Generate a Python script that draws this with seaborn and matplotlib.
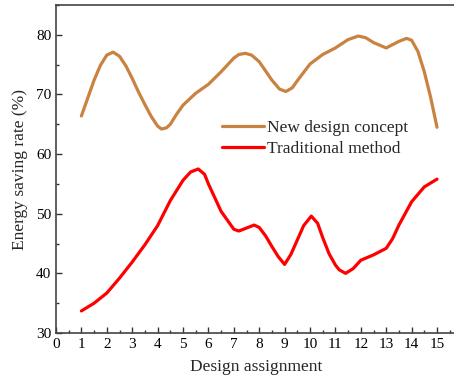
import matplotlib
matplotlib.use("Agg")
import matplotlib.pyplot as plt
import pandas as pd
import seaborn as sns
from matplotlib.ticker import MultipleLocator

# Values (x = design assignment)
new_x = [1, 1.5, 1.75, 2, 2.25, 2.5, 2.75, 3, 3.25, 3.5, 3.75, 4, 4.15, 4.35,
         4.5, 4.75, 5, 5.5, 6, 6.5, 7, 7.2, 7.45, 7.7, 8, 8.5, 8.8, 9.05,
         9.3, 9.5, 10, 10.5, 11, 11.5, 11.9, 12.2, 12.5, 13, 13.5, 13.8, 14,
         14.25, 14.5, 14.75, 15]
new_y = [66.4, 72.4, 74.9, 76.6, 77.1, 76.4, 74.8, 72.7, 70.4, 68.3, 66.3,
         64.7, 64.2, 64.4, 65.0, 66.7, 68.2, 70.2, 71.7, 73.8, 76.1, 76.7,
         76.9, 76.6, 75.5, 72.4, 70.9, 70.5, 71.1, 72.3, 75.1, 76.7, 77.8,
         79.2, 79.8, 79.5, 78.7, 77.8, 78.9, 79.4, 79.1, 77.2, 73.8, 69.5,
         64.5]

trad_x = [1, 1.5, 2, 2.5, 3, 3.5, 4, 4.5, 5, 5.3, 5.6, 5.85, 6, 6.25, 6.5, 7,
          7.2, 7.5, 7.8, 8, 8.25, 8.5, 8.75, 9, 9.25, 9.5, 9.75, 10.05, 10.3,
          10.5, 10.75, 11, 11.15, 11.4, 11.7, 12, 12.5, 13, 13.25, 13.5, 14,
          14.5, 15]
trad_y = [33.7, 35.0, 36.7, 39.2, 41.9, 44.8, 48.0, 52.2, 55.6, 57.0, 57.5,
          56.6, 55.0, 52.7, 50.4, 47.4, 47.1, 47.6, 48.1, 47.7, 46.3, 44.5,
          42.8, 41.5, 43.2, 45.6, 48.0, 49.6, 48.4, 46.0, 43.3, 41.4, 40.6,
          40.0, 40.8, 42.2, 43.1, 44.2, 45.8, 48.1, 52.0, 54.5, 55.8]

series_names = ["New design concept", "Traditional method"]
colors = ["#C98240", "#FF0000"]

df = pd.concat([
    pd.DataFrame({"x": new_x, "y": new_y, "series": series_names[0]}),
    pd.DataFrame({"x": trad_x, "y": trad_y, "series": series_names[1]}),
])

sns.set_theme(style="ticks")
plt.rcParams["font.family"] = ["Liberation Serif", "DejaVu Serif"]

fig = plt.figure(figsize=(4.54, 3.83), dpi=100)
ax = fig.add_axes([56 / 454, 1 - 333 / 383, 401 / 454, 328 / 383])

sns.lineplot(data=df, x="x", y="y", hue="series", palette=colors,
             linewidth=2.3, ax=ax, sort=False, estimator=None,
             solid_joinstyle="round", solid_capstyle="round")

ax.set_xlim(0, 401 / 25.4)
ax.set_ylim(30, 85)
ax.xaxis.set_major_locator(MultipleLocator(1))
ax.xaxis.set_minor_locator(MultipleLocator(0.5))
ax.set_xticks(range(0, 16))
ax.set_yticks([30, 40, 50, 60, 70, 80])
ax.yaxis.set_minor_locator(MultipleLocator(5))
ax.tick_params(which="both", direction="in", top=False, right=False,
               colors="#333333", labelcolor="black")
ax.tick_params(which="major", length=4, width=1, labelsize=11)
ax.tick_params(which="minor", length=2, width=1)
for s in ax.spines.values():
    s.set_linewidth(1.2)
    s.set_color("#444444")

ax.set_xlabel("Design assignment", fontsize=12.5, labelpad=6)
ax.set_ylabel("Energy saving rate (%)", fontsize=12.5, labelpad=6)

ax.legend(loc="upper left", bbox_to_anchor=(166 / 401, 0.65), frameon=False,
          fontsize=12.5, handlelength=2.4, handletextpad=0.2,
          labelspacing=0.3, borderpad=0, borderaxespad=0)

fig.savefig("out.png", dpi=100)
